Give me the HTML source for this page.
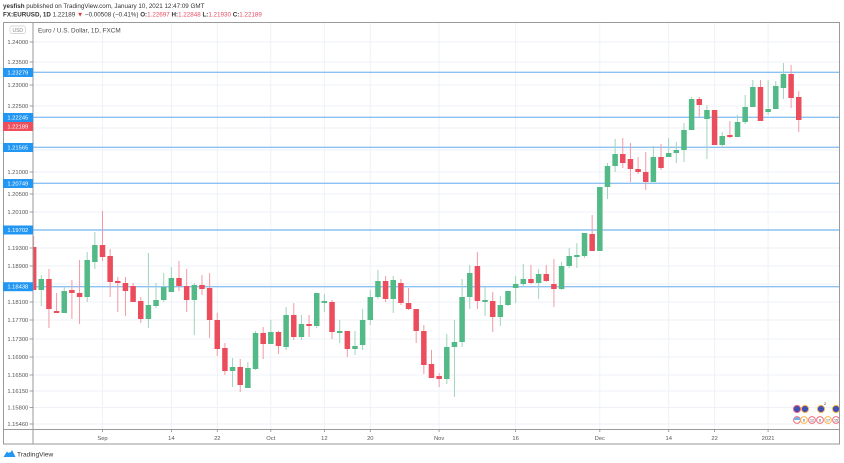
<!DOCTYPE html>
<html><head><meta charset="utf-8"><style>
html,body{margin:0;padding:0;background:#fff;}
svg{display:block;font-family:"Liberation Sans",sans-serif;}
.u rect{fill:#53b987}.d rect{fill:#eb4d5c}
.u line{stroke:#9fd5b9;stroke-width:1}.d line{stroke:#f29aa4;stroke-width:1}
.ax{font-size:5.8px;fill:#555;}
.bl{font-size:5.8px;fill:#fff;}
</style></head><body>
<svg width="844" height="463" viewBox="0 0 844 463" xmlns="http://www.w3.org/2000/svg">
<rect width="844" height="463" fill="#fff"/>
<!-- header -->
<text x="3" y="8" font-size="6.25" fill="#333"><tspan font-weight="bold">yesfish</tspan> published on TradingView.com, January 10, 2021 12:47:09 GMT</text>
<text x="3" y="16.7" font-size="6.25" fill="#333"><tspan font-weight="bold">FX:EURUSD, 1D</tspan> 1.22189 <tspan fill="#e0303f">▼</tspan> −0.00508 (−0.41%) <tspan font-weight="bold">O:</tspan><tspan fill="#e84a5f">1.22697</tspan> <tspan font-weight="bold">H:</tspan><tspan fill="#e84a5f">1.22848</tspan> <tspan font-weight="bold">L:</tspan><tspan fill="#e84a5f">1.21930</tspan> <tspan font-weight="bold">C:</tspan><tspan fill="#e84a5f">1.22189</tspan></text>

<!-- grid -->
<g stroke="#eef2f7" stroke-width="1">
<line x1="33" x2="839.5" y1="42" y2="42"/><line x1="33" x2="839.5" y1="62" y2="62"/><line x1="33" x2="839.5" y1="85" y2="85"/><line x1="33" x2="839.5" y1="106" y2="106"/><line x1="33" x2="839.5" y1="128" y2="128"/><line x1="33" x2="839.5" y1="150" y2="150"/><line x1="33" x2="839.5" y1="172" y2="172"/><line x1="33" x2="839.5" y1="194" y2="194"/><line x1="33" x2="839.5" y1="212" y2="212"/><line x1="33" x2="839.5" y1="230" y2="230"/><line x1="33" x2="839.5" y1="248" y2="248"/><line x1="33" x2="839.5" y1="266" y2="266"/><line x1="33" x2="839.5" y1="284" y2="284"/><line x1="33" x2="839.5" y1="302" y2="302"/><line x1="33" x2="839.5" y1="320" y2="320"/><line x1="33" x2="839.5" y1="339" y2="339"/><line x1="33" x2="839.5" y1="357" y2="357"/><line x1="33" x2="839.5" y1="375" y2="375"/><line x1="33" x2="839.5" y1="391" y2="391"/><line x1="33" x2="839.5" y1="407.5" y2="407.5"/><line x1="33" x2="839.5" y1="424" y2="424"/>
<line x1="102.5" x2="102.5" y1="23" y2="429"/><line x1="171.4" x2="171.4" y1="23" y2="429"/><line x1="217.3" x2="217.3" y1="23" y2="429"/><line x1="270.8" x2="270.8" y1="23" y2="429"/><line x1="324.4" x2="324.4" y1="23" y2="429"/><line x1="370.3" x2="370.3" y1="23" y2="429"/><line x1="439.1" x2="439.1" y1="23" y2="429"/><line x1="515.6" x2="515.6" y1="23" y2="429"/><line x1="599.8" x2="599.8" y1="23" y2="429"/><line x1="668.7" x2="668.7" y1="23" y2="429"/><line x1="714.6" x2="714.6" y1="23" y2="429"/><line x1="768.1" x2="768.1" y1="23" y2="429"/>
</g>

<!-- horizontal blue lines -->
<g stroke="#8cc2f3" stroke-width="1.4">
<line x1="33" x2="839.5" y1="72.3" y2="72.3"/>
<line x1="33" x2="839.5" y1="117.3" y2="117.3"/>
<line x1="33" x2="839.5" y1="147.3" y2="147.3"/>
<line x1="33" x2="839.5" y1="183.3" y2="183.3"/>
<line x1="33" x2="839.5" y1="230" y2="230"/>
<line x1="33" x2="839.5" y1="286.7" y2="286.7"/>
</g>

<defs><clipPath id="pc"><rect x="33" y="23" width="806.5" height="406"/></clipPath></defs>
<g clip-path="url(#pc)">
<g class="d" transform="translate(33.64)"><line y1="236" y2="290"/><rect x="-2.75" width="5.5" y="247" height="43"/></g>
<g class="u" transform="translate(41.29)"><line y1="275" y2="306"/><rect x="-2.75" width="5.5" y="279" height="11"/></g>
<g class="d" transform="translate(48.94)"><line y1="269" y2="328"/><rect x="-2.75" width="5.5" y="279" height="30"/></g>
<g class="d" transform="translate(56.59)"><line y1="293" y2="313"/><rect x="-2.75" width="5.5" y="311" height="2"/></g>
<g class="u" transform="translate(64.24)"><line y1="287" y2="313"/><rect x="-2.75" width="5.5" y="291" height="22"/></g>
<g class="d" transform="translate(71.90)"><line y1="280" y2="319"/><rect x="-2.75" width="5.5" y="290" height="3"/></g>
<g class="d" transform="translate(79.55)"><line y1="260" y2="324"/><rect x="-2.75" width="5.5" y="293" height="4"/></g>
<g class="u" transform="translate(87.20)"><line y1="252" y2="302"/><rect x="-2.75" width="5.5" y="260" height="37"/></g>
<g class="u" transform="translate(94.85)"><line y1="232" y2="269"/><rect x="-2.75" width="5.5" y="245" height="17"/></g>
<g class="d" transform="translate(102.50)"><line y1="211" y2="261"/><rect x="-2.75" width="5.5" y="245" height="12"/></g>
<g class="d" transform="translate(110.15)"><line y1="249" y2="297"/><rect x="-2.75" width="5.5" y="256" height="26"/></g>
<g class="d" transform="translate(117.80)"><line y1="277" y2="312"/><rect x="-2.75" width="5.5" y="281" height="2"/></g>
<g class="d" transform="translate(125.45)"><line y1="277" y2="316"/><rect x="-2.75" width="5.5" y="283" height="8"/></g>
<g class="d" transform="translate(133.10)"><line y1="283" y2="302"/><rect x="-2.75" width="5.5" y="286" height="16"/></g>
<g class="d" transform="translate(140.75)"><line y1="297" y2="323"/><rect x="-2.75" width="5.5" y="301" height="18"/></g>
<g class="u" transform="translate(148.41)"><line y1="253" y2="328"/><rect x="-2.75" width="5.5" y="305" height="14"/></g>
<g class="u" transform="translate(156.06)"><line y1="283" y2="308"/><rect x="-2.75" width="5.5" y="300" height="6"/></g>
<g class="u" transform="translate(163.71)"><line y1="273" y2="302"/><rect x="-2.75" width="5.5" y="287" height="13"/></g>
<g class="u" transform="translate(171.36)"><line y1="267" y2="292"/><rect x="-2.75" width="5.5" y="278" height="14"/></g>
<g class="d" transform="translate(179.01)"><line y1="261" y2="291"/><rect x="-2.75" width="5.5" y="278" height="8"/></g>
<g class="d" transform="translate(186.66)"><line y1="269" y2="312"/><rect x="-2.75" width="5.5" y="286" height="14"/></g>
<g class="u" transform="translate(194.31)"><line y1="283" y2="335"/><rect x="-2.75" width="5.5" y="285" height="15"/></g>
<g class="d" transform="translate(201.96)"><line y1="275" y2="295"/><rect x="-2.75" width="5.5" y="285" height="4"/></g>
<g class="d" transform="translate(209.61)"><line y1="273" y2="338"/><rect x="-2.75" width="5.5" y="288" height="32"/></g>
<g class="d" transform="translate(217.26)"><line y1="313" y2="356"/><rect x="-2.75" width="5.5" y="320" height="29"/></g>
<g class="d" transform="translate(224.92)"><line y1="343" y2="375"/><rect x="-2.75" width="5.5" y="348" height="23"/></g>
<g class="u" transform="translate(232.57)"><line y1="358" y2="387"/><rect x="-2.75" width="5.5" y="367" height="4"/></g>
<g class="d" transform="translate(240.22)"><line y1="359" y2="392"/><rect x="-2.75" width="5.5" y="367" height="18"/></g>
<g class="u" transform="translate(247.87)"><line y1="362" y2="388"/><rect x="-2.75" width="5.5" y="368" height="20"/></g>
<g class="u" transform="translate(255.52)"><line y1="331" y2="370"/><rect x="-2.75" width="5.5" y="333" height="36"/></g>
<g class="d" transform="translate(263.17)"><line y1="327" y2="359"/><rect x="-2.75" width="5.5" y="333" height="11"/></g>
<g class="u" transform="translate(270.82)"><line y1="320" y2="344"/><rect x="-2.75" width="5.5" y="332" height="12"/></g>
<g class="d" transform="translate(278.47)"><line y1="331" y2="354"/><rect x="-2.75" width="5.5" y="332" height="14"/></g>
<g class="u" transform="translate(286.12)"><line y1="307" y2="350"/><rect x="-2.75" width="5.5" y="315" height="32"/></g>
<g class="d" transform="translate(293.77)"><line y1="303" y2="340"/><rect x="-2.75" width="5.5" y="315" height="22"/></g>
<g class="u" transform="translate(301.43)"><line y1="315" y2="340"/><rect x="-2.75" width="5.5" y="324" height="13"/></g>
<g class="d" transform="translate(309.08)"><line y1="315" y2="337"/><rect x="-2.75" width="5.5" y="324" height="2"/></g>
<g class="u" transform="translate(316.73)"><line y1="293" y2="328"/><rect x="-2.75" width="5.5" y="293" height="33"/></g>
<g class="u" transform="translate(324.38)"><line y1="294" y2="312"/><rect x="-2.75" width="5.5" y="301" height="2"/></g>
<g class="d" transform="translate(332.03)"><line y1="300" y2="339"/><rect x="-2.75" width="5.5" y="302" height="30"/></g>
<g class="u" transform="translate(339.68)"><line y1="320" y2="343"/><rect x="-2.75" width="5.5" y="331" height="2"/></g>
<g class="d" transform="translate(347.33)"><line y1="331" y2="357"/><rect x="-2.75" width="5.5" y="331" height="18"/></g>
<g class="u" transform="translate(354.98)"><line y1="331" y2="355"/><rect x="-2.75" width="5.5" y="346" height="3"/></g>
<g class="u" transform="translate(362.63)"><line y1="309" y2="350"/><rect x="-2.75" width="5.5" y="320" height="25"/></g>
<g class="u" transform="translate(370.28)"><line y1="290" y2="325"/><rect x="-2.75" width="5.5" y="297" height="23"/></g>
<g class="u" transform="translate(377.94)"><line y1="270" y2="299"/><rect x="-2.75" width="5.5" y="281" height="16"/></g>
<g class="d" transform="translate(385.59)"><line y1="276" y2="302"/><rect x="-2.75" width="5.5" y="281" height="18"/></g>
<g class="u" transform="translate(393.24)"><line y1="276" y2="313"/><rect x="-2.75" width="5.5" y="280" height="19"/></g>
<g class="d" transform="translate(400.89)"><line y1="279" y2="305"/><rect x="-2.75" width="5.5" y="283" height="20"/></g>
<g class="d" transform="translate(408.54)"><line y1="288" y2="310"/><rect x="-2.75" width="5.5" y="303" height="6"/></g>
<g class="d" transform="translate(416.19)"><line y1="309" y2="343"/><rect x="-2.75" width="5.5" y="309" height="22"/></g>
<g class="d" transform="translate(423.84)"><line y1="325" y2="374"/><rect x="-2.75" width="5.5" y="331" height="34"/></g>
<g class="d" transform="translate(431.49)"><line y1="350" y2="378"/><rect x="-2.75" width="5.5" y="364" height="14"/></g>
<g class="d" transform="translate(439.14)"><line y1="373" y2="387"/><rect x="-2.75" width="5.5" y="376" height="3"/></g>
<g class="u" transform="translate(446.79)"><line y1="334" y2="384"/><rect x="-2.75" width="5.5" y="347" height="32"/></g>
<g class="u" transform="translate(454.45)"><line y1="320" y2="397"/><rect x="-2.75" width="5.5" y="342" height="5"/></g>
<g class="u" transform="translate(462.10)"><line y1="279" y2="347"/><rect x="-2.75" width="5.5" y="297" height="45"/></g>
<g class="u" transform="translate(469.75)"><line y1="265" y2="309"/><rect x="-2.75" width="5.5" y="273" height="24"/></g>
<g class="d" transform="translate(477.40)"><line y1="252" y2="309"/><rect x="-2.75" width="5.5" y="266" height="35"/></g>
<g class="u" transform="translate(485.05)"><line y1="287" y2="316"/><rect x="-2.75" width="5.5" y="300" height="2"/></g>
<g class="d" transform="translate(492.70)"><line y1="292" y2="332"/><rect x="-2.75" width="5.5" y="301" height="16"/></g>
<g class="u" transform="translate(500.35)"><line y1="296" y2="326"/><rect x="-2.75" width="5.5" y="305" height="12"/></g>
<g class="u" transform="translate(508.00)"><line y1="291" y2="306"/><rect x="-2.75" width="5.5" y="291" height="14"/></g>
<g class="u" transform="translate(515.65)"><line y1="276" y2="303"/><rect x="-2.75" width="5.5" y="284" height="4"/></g>
<g class="u" transform="translate(523.30)"><line y1="264" y2="287"/><rect x="-2.75" width="5.5" y="279" height="5"/></g>
<g class="d" transform="translate(530.96)"><line y1="265" y2="284"/><rect x="-2.75" width="5.5" y="279" height="4"/></g>
<g class="u" transform="translate(538.61)"><line y1="269" y2="299"/><rect x="-2.75" width="5.5" y="274" height="9"/></g>
<g class="d" transform="translate(546.26)"><line y1="265" y2="282"/><rect x="-2.75" width="5.5" y="274" height="7"/></g>
<g class="d" transform="translate(553.91)"><line y1="259" y2="307"/><rect x="-2.75" width="5.5" y="284" height="5"/></g>
<g class="u" transform="translate(561.56)"><line y1="262" y2="290"/><rect x="-2.75" width="5.5" y="266" height="23"/></g>
<g class="u" transform="translate(569.21)"><line y1="248" y2="268"/><rect x="-2.75" width="5.5" y="256" height="10"/></g>
<g class="u" transform="translate(576.86)"><line y1="243" y2="268"/><rect x="-2.75" width="5.5" y="255" height="2"/></g>
<g class="u" transform="translate(584.51)"><line y1="233" y2="258"/><rect x="-2.75" width="5.5" y="233" height="23"/></g>
<g class="d" transform="translate(592.16)"><line y1="215" y2="251"/><rect x="-2.75" width="5.5" y="234" height="17"/></g>
<g class="u" transform="translate(599.81)"><line y1="187" y2="251"/><rect x="-2.75" width="5.5" y="187" height="64"/></g>
<g class="u" transform="translate(607.47)"><line y1="163" y2="199"/><rect x="-2.75" width="5.5" y="166" height="21"/></g>
<g class="u" transform="translate(615.12)"><line y1="139" y2="172"/><rect x="-2.75" width="5.5" y="154" height="12"/></g>
<g class="d" transform="translate(622.77)"><line y1="138" y2="168"/><rect x="-2.75" width="5.5" y="154" height="9"/></g>
<g class="d" transform="translate(630.42)"><line y1="143" y2="182"/><rect x="-2.75" width="5.5" y="159" height="10"/></g>
<g class="d" transform="translate(638.07)"><line y1="157" y2="174"/><rect x="-2.75" width="5.5" y="169" height="3"/></g>
<g class="d" transform="translate(645.72)"><line y1="152" y2="190"/><rect x="-2.75" width="5.5" y="172" height="10"/></g>
<g class="u" transform="translate(653.37)"><line y1="146" y2="182"/><rect x="-2.75" width="5.5" y="157" height="25"/></g>
<g class="d" transform="translate(661.02)"><line y1="144" y2="170"/><rect x="-2.75" width="5.5" y="157" height="11"/></g>
<g class="u" transform="translate(668.67)"><line y1="138" y2="157"/><rect x="-2.75" width="5.5" y="153" height="4"/></g>
<g class="u" transform="translate(676.32)"><line y1="142" y2="163"/><rect x="-2.75" width="5.5" y="150" height="3"/></g>
<g class="u" transform="translate(683.98)"><line y1="123" y2="162"/><rect x="-2.75" width="5.5" y="130" height="20"/></g>
<g class="u" transform="translate(691.63)"><line y1="97" y2="130"/><rect x="-2.75" width="5.5" y="99" height="31"/></g>
<g class="d" transform="translate(699.28)"><line y1="97" y2="117"/><rect x="-2.75" width="5.5" y="99" height="6"/></g>
<g class="u" transform="translate(706.93)"><line y1="105" y2="159"/><rect x="-2.75" width="5.5" y="110" height="9"/></g>
<g class="d" transform="translate(714.58)"><line y1="110" y2="145"/><rect x="-2.75" width="5.5" y="110" height="35"/></g>
<g class="u" transform="translate(722.23)"><line y1="132" y2="148"/><rect x="-2.75" width="5.5" y="136" height="9"/></g>
<g class="d" transform="translate(729.88)"><line y1="121" y2="138"/><rect x="-2.75" width="5.5" y="135" height="2"/></g>
<g class="u" transform="translate(737.53)"><line y1="115" y2="137"/><rect x="-2.75" width="5.5" y="122" height="15"/></g>
<g class="u" transform="translate(745.18)"><line y1="95" y2="124"/><rect x="-2.75" width="5.5" y="107" height="15"/></g>
<g class="u" transform="translate(752.83)"><line y1="80" y2="107"/><rect x="-2.75" width="5.5" y="87" height="20"/></g>
<g class="d" transform="translate(760.49)"><line y1="80" y2="121"/><rect x="-2.75" width="5.5" y="87" height="34"/></g>
<g class="u" transform="translate(768.14)"><line y1="80" y2="115"/><rect x="-2.75" width="5.5" y="109" height="3"/></g>
<g class="u" transform="translate(775.79)"><line y1="81" y2="109"/><rect x="-2.75" width="5.5" y="86" height="23"/></g>
<g class="u" transform="translate(783.44)"><line y1="63" y2="99"/><rect x="-2.75" width="5.5" y="74" height="14"/></g>
<g class="d" transform="translate(791.09)"><line y1="65" y2="108"/><rect x="-2.75" width="5.5" y="74" height="24"/></g>
<g class="d" transform="translate(798.74)"><line y1="91" y2="132"/><rect x="-2.75" width="5.5" y="97" height="23"/></g>

<!-- event icons -->
<g>
<circle cx="797" cy="409" r="3.6" fill="#3f51b5" stroke="#f26d7d" stroke-width="1"/>
<circle cx="805" cy="409" r="3.6" fill="#3f51b5" stroke="#ffb74d" stroke-width="1"/>
<circle cx="821" cy="409" r="3.6" fill="#3f51b5" stroke="#ffb74d" stroke-width="1"/>
<circle cx="836" cy="409" r="3.6" fill="#3f51b5" stroke="#ffb74d" stroke-width="1"/>
<text x="824" y="405" font-size="4" fill="#333">2</text>
<g stroke-width="1" fill="#fff">
<circle cx="797" cy="420" r="3.4" stroke="#f26d7d"/>
<circle cx="804" cy="420" r="3.4" stroke="#ffb74d"/>
<circle cx="812" cy="420" r="3.4" stroke="#f26d7d"/>
<circle cx="820" cy="420" r="3.4" stroke="#f26d7d"/>
<circle cx="828" cy="420" r="3.4" stroke="#ffb74d"/>
<circle cx="836" cy="420" r="3.4" stroke="#f26d7d"/>
</g>
<path d="M794 420 a3 3 0 0 1 6 0z" fill="#64b5f6"/>
<g font-size="3.6" fill="#333" text-anchor="middle">
<text x="804" y="421.5">6</text><text x="812" y="421.5">12</text><text x="820" y="421.5">6</text><text x="828" y="421.5">17</text><text x="836" y="421.5">15</text>
</g>
</g>
</g>

<!-- frame -->
<g stroke="#9a9a9a" stroke-width="1" fill="none">
<rect x="3.5" y="22.5" width="836" height="421.5"/>
<line x1="33" x2="33" y1="22.5" y2="444"/>
<line x1="3.5" x2="839.5" y1="429.5" y2="429.5"/>
</g>

<!-- USD box -->
<rect x="10" y="26" width="15.5" height="7.5" rx="2" fill="#fff" stroke="#ccc" stroke-width="0.7"/>
<text x="17.75" y="31.8" font-size="5" fill="#888" text-anchor="middle">USD</text>

<!-- legend -->
<text x="38" y="32.5" font-size="6.4" fill="#4a4a4a">Euro / U.S. Dollar, 1D, FXCM</text>

<!-- price axis ticks/labels -->
<g stroke="#888" stroke-width="0.8">
<line x1="29.5" x2="33" y1="42" y2="42"/><line x1="29.5" x2="33" y1="62" y2="62"/><line x1="29.5" x2="33" y1="85" y2="85"/><line x1="29.5" x2="33" y1="106" y2="106"/><line x1="29.5" x2="33" y1="172" y2="172"/><line x1="29.5" x2="33" y1="194" y2="194"/><line x1="29.5" x2="33" y1="212" y2="212"/><line x1="29.5" x2="33" y1="248" y2="248"/><line x1="29.5" x2="33" y1="266" y2="266"/><line x1="29.5" x2="33" y1="302" y2="302"/><line x1="29.5" x2="33" y1="320" y2="320"/><line x1="29.5" x2="33" y1="339" y2="339"/><line x1="29.5" x2="33" y1="357" y2="357"/><line x1="29.5" x2="33" y1="375" y2="375"/><line x1="29.5" x2="33" y1="391" y2="391"/><line x1="29.5" x2="33" y1="407.5" y2="407.5"/><line x1="29.5" x2="33" y1="424" y2="424"/>
</g>
<g class="ax" text-anchor="end">
<text x="28.3" y="44">1.24000</text>
<text x="28.3" y="64">1.23500</text>
<text x="28.3" y="87">1.23000</text>
<text x="28.3" y="108">1.22500</text>
<text x="28.3" y="174">1.21000</text>
<text x="28.3" y="196">1.20500</text>
<text x="28.3" y="214">1.20100</text>
<text x="28.3" y="250">1.19300</text>
<text x="28.3" y="268">1.18900</text>
<text x="28.3" y="304">1.18100</text>
<text x="28.3" y="322">1.17700</text>
<text x="28.3" y="341">1.17300</text>
<text x="28.3" y="359">1.16900</text>
<text x="28.3" y="377">1.16500</text>
<text x="28.3" y="393">1.16150</text>
<text x="28.3" y="409.5">1.15800</text>
<text x="28.3" y="426">1.15460</text>
</g>
<!-- blue/red labels -->
<g>
<rect x="3" y="68" width="30" height="9" fill="#2196f3"/>
<rect x="3" y="113" width="30" height="9" fill="#2196f3"/>
<rect x="3" y="122" width="30" height="9" fill="#ef4f5d"/>
<rect x="3" y="143" width="30" height="9" fill="#2196f3"/>
<rect x="3" y="179" width="30" height="9" fill="#2196f3"/>
<rect x="3" y="225.5" width="30" height="9" fill="#2196f3"/>
<rect x="3" y="282.2" width="30" height="9" fill="#2196f3"/>
</g>
<g class="bl" text-anchor="end">
<text x="28.3" y="74.5">1.23279</text>
<text x="28.3" y="119.5">1.22245</text>
<text x="28.3" y="128.5">1.22189</text>
<text x="28.3" y="149.5">1.21565</text>
<text x="28.3" y="185.5">1.20749</text>
<text x="28.3" y="232">1.19702</text>
<text x="28.3" y="288.7">1.18438</text>
</g>

<!-- time axis -->
<g stroke="#888" stroke-width="0.8">
<line x1="102.5" x2="102.5" y1="429.5" y2="432"/><line x1="171.4" x2="171.4" y1="429.5" y2="432"/><line x1="217.3" x2="217.3" y1="429.5" y2="432"/><line x1="270.8" x2="270.8" y1="429.5" y2="432"/><line x1="324.4" x2="324.4" y1="429.5" y2="432"/><line x1="370.3" x2="370.3" y1="429.5" y2="432"/><line x1="439.1" x2="439.1" y1="429.5" y2="432"/><line x1="515.6" x2="515.6" y1="429.5" y2="432"/><line x1="599.8" x2="599.8" y1="429.5" y2="432"/><line x1="668.7" x2="668.7" y1="429.5" y2="432"/><line x1="714.6" x2="714.6" y1="429.5" y2="432"/><line x1="768.1" x2="768.1" y1="429.5" y2="432"/>
</g>
<g class="ax" text-anchor="middle">
<text x="102.5" y="440">Sep</text>
<text x="171.4" y="440">14</text>
<text x="217.3" y="440">22</text>
<text x="270.8" y="440">Oct</text>
<text x="324.4" y="440">12</text>
<text x="370.3" y="440">20</text>
<text x="439.1" y="440">Nov</text>
<text x="515.6" y="440">16</text>
<text x="599.8" y="440">Dec</text>
<text x="668.7" y="440">14</text>
<text x="714.6" y="440">22</text>
<text x="768.1" y="440">2021</text>
</g>

<!-- TradingView logo -->
<path d="M3.5 457 L7 451.5 L9.5 454 L12 450 L15.5 457 Z" fill="#2196f3"/>
<path d="M4.5 456.5 a2.2 2.2 0 0 1 3 -2.5 a3 3 0 0 1 5.5 0.5 a1.8 1.8 0 0 1 1.5 2z" fill="#2196f3"/>
<text x="17" y="456.5" font-size="6.6" fill="#333">TradingView</text>
</svg>
</body></html>
